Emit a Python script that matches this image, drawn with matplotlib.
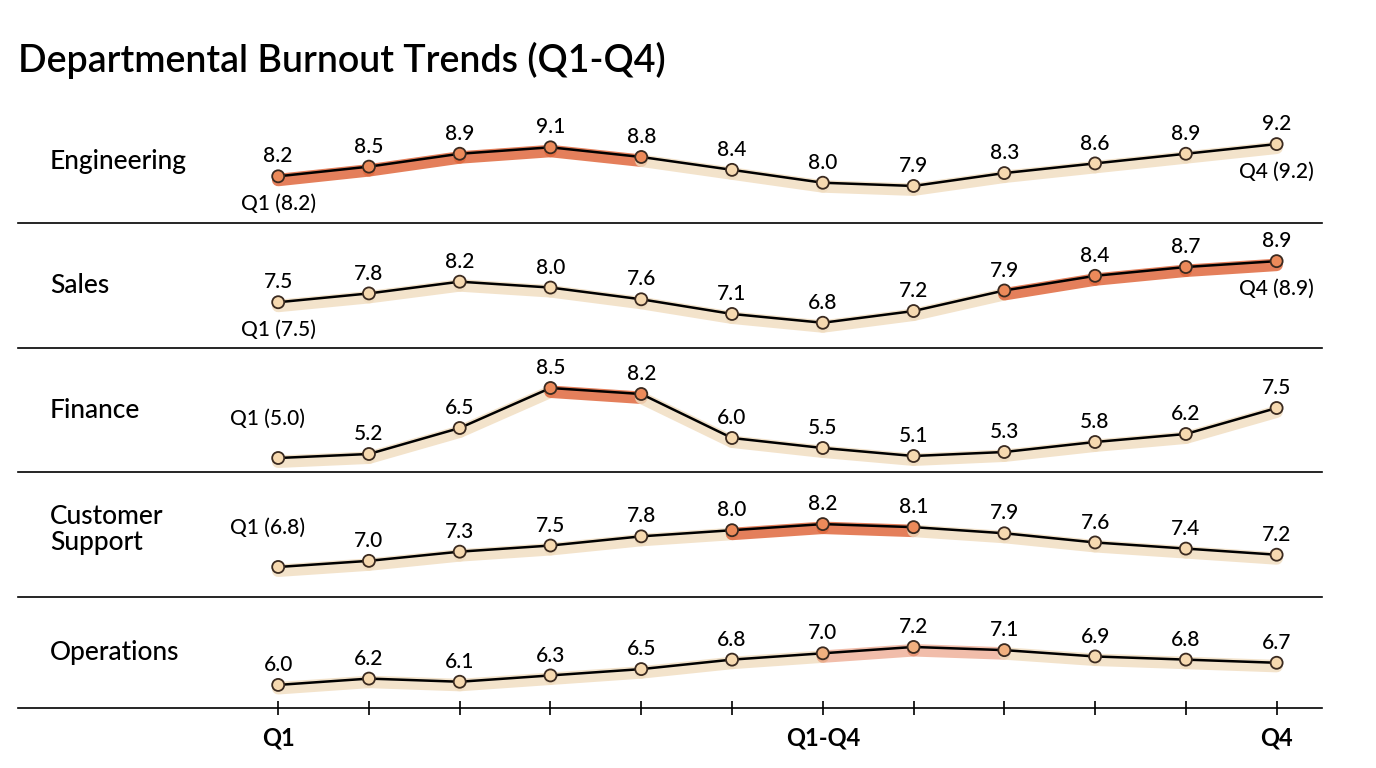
import matplotlib.pyplot as plt
import numpy as np

plt.rcParams['font.family'] = ['Lato', 'DejaVu Sans']

departments = ['Engineering', 'Sales', 'Finance', 'Customer\nSupport', 'Operations']
engineering = [8.2, 8.5, 8.9, 9.1, 8.8, 8.4, 8.0, 7.9, 8.3, 8.6, 8.9, 9.2]
sales = [7.5, 7.8, 8.2, 8.0, 7.6, 7.1, 6.8, 7.2, 7.9, 8.4, 8.7, 8.9]
finance = [5.0, 5.2, 6.5, 8.5, 8.2, 6.0, 5.5, 5.1, 5.3, 5.8, 6.2, 7.5]
support = [6.8, 7.0, 7.3, 7.5, 7.8, 8.0, 8.2, 8.1, 7.9, 7.6, 7.4, 7.2]
operations = [6.0, 6.2, 6.1, 6.3, 6.5, 6.8, 7.0, 7.2, 7.1, 6.9, 6.8, 6.7]
series = [engineering, sales, finance, support, operations]
# which points are highlighted in orange, per department
hot = [[0, 1, 2, 3, 4], [8, 9, 10, 11], [3, 4], [5, 6, 7], [6, 7, 8]]
tick_labels = ['Q1', '', '', '', '', '', 'Q1-Q4', '', '', '', '', 'Q4']

# layout: per-row y ranges and band edges (pixels from top)
ylims = [(6.75, 10.6), (5.94, 10.2), (4.3, 10.5), (5.82, 9.9), (5.27, 8.78)]
bands = [(99, 223), (223, 348), (348, 472), (472, 597), (597, 708)]
first_lbl = ['below', 'below', 'left', 'left', 'none']
last_lbl = [True, True, False, False, False]
hot_strength = [1.0, 1.0, 1.0, 1.0, 0.45]

ORANGE = '#e0693e'
BEIGE = '#f0dcbf'
DOT_HOT = '#ec8a5a'
DOT_WARM = '#f1b07f'
DOT_COOL = '#f6d9b0'

W, H = 1376, 768
fig = plt.figure(figsize=(W / 100, H / 100), dpi=100)
fig.text(18 / W, 1 - 60 / H, 'Departmental Burnout Trends (Q1-Q4)', fontsize=27,
         fontweight='semibold', va='center')

x = np.arange(12)
for r, (name, vals) in enumerate(zip(departments, series)):
    top, bot = bands[r]
    ax = fig.add_axes([18 / W, 1 - bot / H, 1304 / W, (bot - top) / H])
    left_units = (278 - 18) / 90.7
    ax.set_xlim(-left_units, 11.5)
    ax.set_ylim(*ylims[r])
    for s in ['top', 'right', 'left']:
        ax.spines[s].set_visible(False)
    ax.spines['bottom'].set_linewidth(1.2)
    ax.set_yticks([])
    ax.patch.set_alpha(0)

    off = 0.03 * (ylims[r][1] - ylims[r][0])
    for i in range(11):
        if i in hot[r] and i + 1 in hot[r]:
            c, a = ORANGE, 0.75 * hot_strength[r] + 0.1
        else:
            c, a = BEIGE, 0.8
        ax.plot([x[i], x[i + 1]], [vals[i] - off, vals[i + 1] - off],
                color=c, lw=9, alpha=a, solid_capstyle='round', zorder=1)
    ax.plot(x, vals, color='black', lw=1.8, zorder=2)
    hc = DOT_HOT if hot_strength[r] > 0.5 else DOT_WARM
    cols = [hc if i in hot[r] else DOT_COOL for i in range(12)]
    ax.scatter(x, vals, s=75, c=cols, edgecolors='#3a2a20', linewidths=1.3, zorder=3)

    ax.text(-left_units + 32 / 90.7, np.mean(ylims[r]) + (0.15 if r == 3 else 0),
            name, fontsize=19, fontweight='medium', va='center', ha='left', linespacing=1.05)

    for i, v in enumerate(vals):
        if i == 0 and first_lbl[r] == 'left':
            ax.annotate(f'Q1 ({v:.1f})', (x[i], v), xytext=(-8, 24), textcoords='offset points',
                        ha='center', fontsize=15, fontweight='medium')
            continue
        ax.annotate(f'{v:.1f}', (x[i], v), xytext=(0, 10), textcoords='offset points',
                    ha='center', fontsize=15, fontweight='medium')
    if first_lbl[r] == 'below':
        ax.annotate(f'Q1 ({vals[0]:.1f})', (x[0], vals[0]), xytext=(0, -24),
                    textcoords='offset points', ha='center', fontsize=15, fontweight='medium')
    if last_lbl[r]:
        ax.annotate(f'Q4 ({vals[-1]:.1f})', (x[-1], vals[-1]), xytext=(0, -24),
                    textcoords='offset points', ha='center', fontsize=15, fontweight='medium')

    if r == 4:
        ax.set_xticks(x)
        ax.set_xticklabels(tick_labels, fontsize=17, fontweight='bold')
        ax.tick_params(axis='x', direction='inout', length=10, width=1.2, pad=8)
    else:
        ax.set_xticks([])

fig.savefig('out.png', dpi=100)
